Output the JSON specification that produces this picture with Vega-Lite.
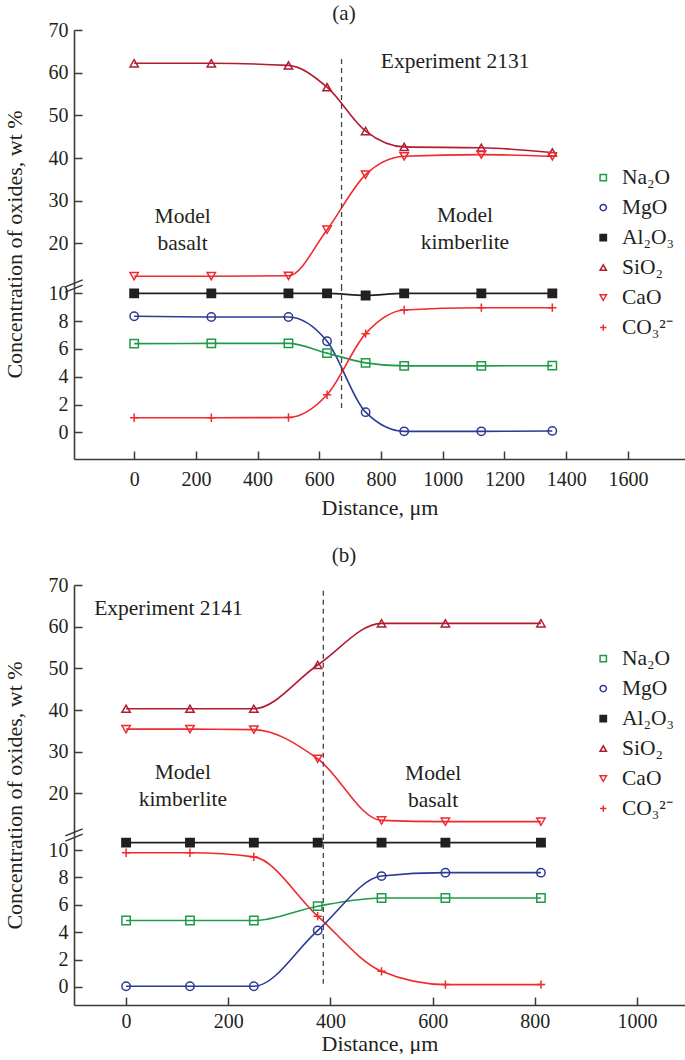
{
  "$schema": "https://vega.github.io/schema/vega-lite/v6.json",
  "background": "white",
  "padding": {"left": 3, "top": 3, "right": 0, "bottom": 0},
  "datasets": {
    "a": [
      {"ox": "SiO₂", "d": 0, "v": 62.2, "sec": "U"},
      {"ox": "SiO₂", "d": 250, "v": 62.2, "sec": "U"},
      {"ox": "SiO₂", "d": 500, "v": 61.7, "sec": "U"},
      {"ox": "SiO₂", "d": 625, "v": 56.6, "sec": "U"},
      {"ox": "SiO₂", "d": 750, "v": 46.3, "sec": "U"},
      {"ox": "SiO₂", "d": 875, "v": 42.6, "sec": "U"},
      {"ox": "SiO₂", "d": 1125, "v": 42.4, "sec": "U"},
      {"ox": "SiO₂", "d": 1355, "v": 41.3, "sec": "U"},
      {"ox": "CaO", "d": 0, "v": 12.3, "sec": "U"},
      {"ox": "CaO", "d": 250, "v": 12.3, "sec": "U"},
      {"ox": "CaO", "d": 500, "v": 12.4, "sec": "U"},
      {"ox": "CaO", "d": 625, "v": 23.2, "sec": "U"},
      {"ox": "CaO", "d": 750, "v": 36.1, "sec": "U"},
      {"ox": "CaO", "d": 875, "v": 40.4, "sec": "U"},
      {"ox": "CaO", "d": 1125, "v": 40.8, "sec": "U"},
      {"ox": "CaO", "d": 1355, "v": 40.4, "sec": "U"},
      {"ox": "Al₂O₃", "d": 0, "v": 10.0, "sec": "L"},
      {"ox": "Al₂O₃", "d": 250, "v": 10.0, "sec": "L"},
      {"ox": "Al₂O₃", "d": 500, "v": 10.0, "sec": "L"},
      {"ox": "Al₂O₃", "d": 625, "v": 10.0, "sec": "L"},
      {"ox": "Al₂O₃", "d": 750, "v": 9.85, "sec": "L"},
      {"ox": "Al₂O₃", "d": 875, "v": 10.0, "sec": "L"},
      {"ox": "Al₂O₃", "d": 1125, "v": 10.0, "sec": "L"},
      {"ox": "Al₂O₃", "d": 1355, "v": 10.0, "sec": "L"},
      {"ox": "MgO", "d": 0, "v": 8.35, "sec": "L"},
      {"ox": "MgO", "d": 250, "v": 8.3, "sec": "L"},
      {"ox": "MgO", "d": 500, "v": 8.3, "sec": "L"},
      {"ox": "MgO", "d": 625, "v": 6.55, "sec": "L"},
      {"ox": "MgO", "d": 750, "v": 1.45, "sec": "L"},
      {"ox": "MgO", "d": 875, "v": 0.07, "sec": "L"},
      {"ox": "MgO", "d": 1125, "v": 0.07, "sec": "L"},
      {"ox": "MgO", "d": 1355, "v": 0.1, "sec": "L"},
      {"ox": "Na₂O", "d": 0, "v": 6.38, "sec": "L"},
      {"ox": "Na₂O", "d": 250, "v": 6.4, "sec": "L"},
      {"ox": "Na₂O", "d": 500, "v": 6.4, "sec": "L"},
      {"ox": "Na₂O", "d": 625, "v": 5.7, "sec": "L"},
      {"ox": "Na₂O", "d": 750, "v": 5.0, "sec": "L"},
      {"ox": "Na₂O", "d": 875, "v": 4.78, "sec": "L"},
      {"ox": "Na₂O", "d": 1125, "v": 4.78, "sec": "L"},
      {"ox": "Na₂O", "d": 1355, "v": 4.8, "sec": "L"},
      {"ox": "CO₃²⁻", "d": 0, "v": 1.05, "sec": "L"},
      {"ox": "CO₃²⁻", "d": 250, "v": 1.05, "sec": "L"},
      {"ox": "CO₃²⁻", "d": 500, "v": 1.07, "sec": "L"},
      {"ox": "CO₃²⁻", "d": 625, "v": 2.7, "sec": "L"},
      {"ox": "CO₃²⁻", "d": 750, "v": 7.1, "sec": "L"},
      {"ox": "CO₃²⁻", "d": 875, "v": 8.8, "sec": "L"},
      {"ox": "CO₃²⁻", "d": 1125, "v": 8.97, "sec": "L"},
      {"ox": "CO₃²⁻", "d": 1355, "v": 8.97, "sec": "L"}
    ],
    "b": [
      {"ox": "SiO₂", "d": 0, "v": 40.3, "sec": "U"},
      {"ox": "SiO₂", "d": 125, "v": 40.3, "sec": "U"},
      {"ox": "SiO₂", "d": 250, "v": 40.3, "sec": "U"},
      {"ox": "SiO₂", "d": 375, "v": 50.8, "sec": "U"},
      {"ox": "SiO₂", "d": 500, "v": 60.8, "sec": "U"},
      {"ox": "SiO₂", "d": 625, "v": 60.8, "sec": "U"},
      {"ox": "SiO₂", "d": 812, "v": 60.8, "sec": "U"},
      {"ox": "CaO", "d": 0, "v": 35.4, "sec": "U"},
      {"ox": "CaO", "d": 125, "v": 35.4, "sec": "U"},
      {"ox": "CaO", "d": 250, "v": 35.3, "sec": "U"},
      {"ox": "CaO", "d": 375, "v": 28.3, "sec": "U"},
      {"ox": "CaO", "d": 500, "v": 13.5, "sec": "U"},
      {"ox": "CaO", "d": 625, "v": 13.2, "sec": "U"},
      {"ox": "CaO", "d": 812, "v": 13.2, "sec": "U"},
      {"ox": "Al₂O₃", "d": 0, "v": 10.54, "sec": "L"},
      {"ox": "Al₂O₃", "d": 125, "v": 10.54, "sec": "L"},
      {"ox": "Al₂O₃", "d": 250, "v": 10.54, "sec": "L"},
      {"ox": "Al₂O₃", "d": 375, "v": 10.54, "sec": "L"},
      {"ox": "Al₂O₃", "d": 500, "v": 10.54, "sec": "L"},
      {"ox": "Al₂O₃", "d": 625, "v": 10.54, "sec": "L"},
      {"ox": "Al₂O₃", "d": 812, "v": 10.54, "sec": "L"},
      {"ox": "CO₃²⁻", "d": 0, "v": 9.8, "sec": "L"},
      {"ox": "CO₃²⁻", "d": 125, "v": 9.8, "sec": "L"},
      {"ox": "CO₃²⁻", "d": 250, "v": 9.5, "sec": "L"},
      {"ox": "CO₃²⁻", "d": 375, "v": 5.17, "sec": "L"},
      {"ox": "CO₃²⁻", "d": 500, "v": 1.14, "sec": "L"},
      {"ox": "CO₃²⁻", "d": 625, "v": 0.17, "sec": "L"},
      {"ox": "CO₃²⁻", "d": 812, "v": 0.17, "sec": "L"},
      {"ox": "Na₂O", "d": 0, "v": 4.85, "sec": "L"},
      {"ox": "Na₂O", "d": 125, "v": 4.85, "sec": "L"},
      {"ox": "Na₂O", "d": 250, "v": 4.85, "sec": "L"},
      {"ox": "Na₂O", "d": 375, "v": 5.9, "sec": "L"},
      {"ox": "Na₂O", "d": 500, "v": 6.5, "sec": "L"},
      {"ox": "Na₂O", "d": 625, "v": 6.5, "sec": "L"},
      {"ox": "Na₂O", "d": 812, "v": 6.5, "sec": "L"},
      {"ox": "MgO", "d": 0, "v": 0.05, "sec": "L"},
      {"ox": "MgO", "d": 125, "v": 0.05, "sec": "L"},
      {"ox": "MgO", "d": 250, "v": 0.05, "sec": "L"},
      {"ox": "MgO", "d": 375, "v": 4.12, "sec": "L"},
      {"ox": "MgO", "d": 500, "v": 8.1, "sec": "L"},
      {"ox": "MgO", "d": 625, "v": 8.35, "sec": "L"},
      {"ox": "MgO", "d": 812, "v": 8.35, "sec": "L"}
    ],
    "notesA": [
      {"t": "Experiment 2131", "d": 1040, "v": 62.5},
      {"t": "Model\nbasalt", "d": 157, "v": 26.1},
      {"t": "Model\nkimberlite", "d": 1072, "v": 26.5}
    ],
    "notesB": [
      {"t": "Experiment 2141", "d": 83, "v": 64.2},
      {"t": "Model\nkimberlite", "d": 111, "v": 24.8},
      {"t": "Model\nbasalt", "d": 601, "v": 24.7}
    ]
  },
  "spacing": 27,
  "vconcat": [
    {
      "title": {"text": "(a)", "offset": -4},
      "bounds": "flush",
      "spacing": 0,
      "vconcat": [
        {
          "width": 611, "height": 256,
          "layer": [
            {
              "data": {"name": "a"}, "transform": [{"filter": "datum.sec === 'U'"}],
              "mark": {"type": "line", "interpolate": "monotone", "strokeWidth": 1.6},
              "encoding": {
                "x": {"field": "d", "type": "quantitative", "scale": {"domain": [-195, 1785], "nice": false, "zero": false}, "axis": null},
                "y": {"field": "v", "type": "quantitative", "scale": {"domain": [10, 70], "nice": false, "zero": false},
                      "axis": {"values": [20, 30, 40, 50, 60, 70], "tickCount": 12, "labelOverlap": false, "title": "Concentration of oxides, wt %", "titleY": 214, "tickSize": -8, "labelPadding": 14, "titlePadding": 22}},
                "color": {"field": "ox", "type": "nominal", "scale": {"domain": ["MgO", "Na₂O", "Al₂O₃", "SiO₂", "CaO", "CO₃²⁻"], "range": ["#2b3a92", "#1f9a48", "#231f20", "#b01c30", "#ee2a2e", "#ee2a2e"]}, "legend": null}
              }
            },
            {
              "data": {"name": "a"}, "transform": [{"filter": "datum.sec === 'U'"}],
              "mark": {"type": "point", "filled": true, "size": 70, "strokeWidth": 1.5, "opacity": 1},
              "encoding": {
                "x": {"field": "d", "type": "quantitative"},
                "y": {"field": "v", "type": "quantitative"},
                "stroke": {"field": "ox", "type": "nominal", "scale": {"domain": ["Na₂O", "MgO", "Al₂O₃", "SiO₂", "CaO", "CO₃²⁻"], "range": ["#1f9a48", "#2b3a92", "#231f20", "#b01c30", "#ee2a2e", "#ee2a2e"]},
                           "legend": {"orient": "none", "legendX": 518.5, "legendY": 136.8, "title": null, "padding": 0, "symbolSize": 40, "symbolStrokeWidth": 1.5, "labelFontSize": 21.5, "labelColor": "#231f20", "labelOffset": 8, "rowPadding": 7}},
                "fill": {"field": "ox", "type": "nominal", "scale": {"domain": ["Na₂O", "MgO", "Al₂O₃", "SiO₂", "CaO", "CO₃²⁻"], "range": ["transparent", "transparent", "#231f20", "transparent", "transparent", "transparent"]}},
                "shape": {"field": "ox", "type": "nominal", "scale": {"domain": ["Na₂O", "MgO", "Al₂O₃", "SiO₂", "CaO", "CO₃²⁻"], "range": ["square", "circle", "square", "triangle-up", "triangle-down", "M-1,0L1,0M0,-1L0,1"]}}
              }
            },
            {
              "data": {"values": [{}]},
              "mark": {"type": "rule", "strokeDash": [5, 4], "color": "#444", "strokeWidth": 1.3},
              "encoding": {"x": {"datum": 672}, "y": {"datum": 63.2}, "y2": {"datum": 10}}
            },
            {
              "data": {"values": [{}]},
              "mark": {"type": "point", "shape": "M-1,0.1L1,-0.7M-1,0.7L1,-0.1", "size": 300, "filled": false, "stroke": "#333", "strokeWidth": 1.4, "opacity": 1},
              "encoding": {"x": {"datum": -195}, "y": {"datum": 10}}
            },
            {
              "data": {"name": "notesA"},
              "mark": {"type": "text", "font": "Liberation Serif", "fontSize": 21.5, "lineBreak": "\n", "lineHeight": 27, "color": "#231f20"},
              "encoding": {"x": {"field": "d", "type": "quantitative"}, "y": {"field": "v", "type": "quantitative"}, "text": {"field": "t"}}
            }
          ]
        },
        {
          "width": 611, "height": 173,
          "layer": [
            {
              "data": {"name": "a"}, "transform": [{"filter": "datum.sec === 'L'"}],
              "mark": {"type": "line", "interpolate": "monotone", "strokeWidth": 1.6},
              "encoding": {
                "x": {"field": "d", "type": "quantitative", "scale": {"domain": [-195, 1785], "nice": false, "zero": false},
                      "axis": {"values": [0, 200, 400, 600, 800, 1000, 1200, 1400, 1600], "tickCount": 20, "labelOverlap": false, "format": "d", "title": "Distance, μm", "tickSize": -8, "labelPadding": 18, "titlePadding": 8}},
                "y": {"field": "v", "type": "quantitative", "scale": {"domain": [-1.92, 10.53], "nice": false, "zero": false},
                      "axis": {"values": [0, 2, 4, 6, 8, 10], "tickCount": 12, "labelOverlap": false, "title": null, "tickSize": -8, "labelPadding": 14}},
                "color": {"field": "ox", "type": "nominal", "scale": {"domain": ["MgO", "Na₂O", "Al₂O₃", "SiO₂", "CaO", "CO₃²⁻"], "range": ["#2b3a92", "#1f9a48", "#231f20", "#b01c30", "#ee2a2e", "#ee2a2e"]}, "legend": null}
              }
            },
            {
              "data": {"name": "a"}, "transform": [{"filter": "datum.sec === 'L'"}],
              "mark": {"type": "point", "filled": true, "size": 70, "strokeWidth": 1.5, "opacity": 1},
              "encoding": {
                "x": {"field": "d", "type": "quantitative"},
                "y": {"field": "v", "type": "quantitative"},
                "stroke": {"field": "ox", "type": "nominal", "scale": {"domain": ["Na₂O", "MgO", "Al₂O₃", "SiO₂", "CaO", "CO₃²⁻"], "range": ["#1f9a48", "#2b3a92", "#231f20", "#b01c30", "#ee2a2e", "#ee2a2e"]}},
                "fill": {"field": "ox", "type": "nominal", "scale": {"domain": ["Na₂O", "MgO", "Al₂O₃", "SiO₂", "CaO", "CO₃²⁻"], "range": ["transparent", "transparent", "#231f20", "transparent", "transparent", "transparent"]}},
                "shape": {"field": "ox", "type": "nominal", "scale": {"domain": ["Na₂O", "MgO", "Al₂O₃", "SiO₂", "CaO", "CO₃²⁻"], "range": ["square", "circle", "square", "triangle-up", "triangle-down", "M-1,0L1,0M0,-1L0,1"]}}
              }
            },
            {
              "data": {"values": [{}]},
              "mark": {"type": "rule", "strokeDash": [5, 4], "color": "#444", "strokeWidth": 1.3},
              "encoding": {"x": {"datum": 672}, "y": {"datum": 10.53}, "y2": {"datum": 1.64}}
            }
          ]
        }
      ],
      "resolve": {"scale": {"y": "independent"}}
    },
    {
      "title": {"text": "(b)", "offset": 9},
      "bounds": "flush",
      "spacing": 0,
      "vconcat": [
        {
          "width": 611, "height": 250,
          "layer": [
            {
              "data": {"name": "b"}, "transform": [{"filter": "datum.sec === 'U'"}],
              "mark": {"type": "line", "interpolate": "monotone", "strokeWidth": 1.6},
              "encoding": {
                "x": {"field": "d", "type": "quantitative", "scale": {"domain": [-102, 1094], "nice": false, "zero": false}, "axis": null},
                "y": {"field": "v", "type": "quantitative", "scale": {"domain": [10, 70], "nice": false, "zero": false},
                      "axis": {"values": [20, 30, 40, 50, 60, 70], "tickCount": 12, "labelOverlap": false, "title": "Concentration of oxides, wt %", "titleY": 210, "tickSize": -8, "labelPadding": 14, "titlePadding": 22}},
                "color": {"field": "ox", "type": "nominal", "scale": {"domain": ["MgO", "Na₂O", "Al₂O₃", "SiO₂", "CaO", "CO₃²⁻"], "range": ["#2b3a92", "#1f9a48", "#231f20", "#b01c30", "#ee2a2e", "#ee2a2e"]}, "legend": null}
              }
            },
            {
              "data": {"name": "b"}, "transform": [{"filter": "datum.sec === 'U'"}],
              "mark": {"type": "point", "filled": true, "size": 70, "strokeWidth": 1.5, "opacity": 1},
              "encoding": {
                "x": {"field": "d", "type": "quantitative"},
                "y": {"field": "v", "type": "quantitative"},
                "stroke": {"field": "ox", "type": "nominal", "scale": {"domain": ["Na₂O", "MgO", "Al₂O₃", "SiO₂", "CaO", "CO₃²⁻"], "range": ["#1f9a48", "#2b3a92", "#231f20", "#b01c30", "#ee2a2e", "#ee2a2e"]},
                           "legend": {"orient": "none", "legendX": 518.5, "legendY": 62.8, "title": null, "padding": 0, "symbolSize": 40, "symbolStrokeWidth": 1.5, "labelFontSize": 21.5, "labelColor": "#231f20", "labelOffset": 8, "rowPadding": 7}},
                "fill": {"field": "ox", "type": "nominal", "scale": {"domain": ["Na₂O", "MgO", "Al₂O₃", "SiO₂", "CaO", "CO₃²⁻"], "range": ["transparent", "transparent", "#231f20", "transparent", "transparent", "transparent"]}},
                "shape": {"field": "ox", "type": "nominal", "scale": {"domain": ["Na₂O", "MgO", "Al₂O₃", "SiO₂", "CaO", "CO₃²⁻"], "range": ["square", "circle", "square", "triangle-up", "triangle-down", "M-1,0L1,0M0,-1L0,1"]}}
              }
            },
            {
              "data": {"values": [{}]},
              "mark": {"type": "rule", "strokeDash": [5, 4], "color": "#444", "strokeWidth": 1.3},
              "encoding": {"x": {"datum": 386}, "y": {"datum": 68.6}, "y2": {"datum": 10}}
            },
            {
              "data": {"values": [{}]},
              "mark": {"type": "point", "shape": "M-1,0.1L1,-0.7M-1,0.7L1,-0.1", "size": 300, "filled": false, "stroke": "#333", "strokeWidth": 1.4, "opacity": 1},
              "encoding": {"x": {"datum": -102}, "y": {"datum": 10}}
            },
            {
              "data": {"name": "notesB"},
              "mark": {"type": "text", "font": "Liberation Serif", "fontSize": 21.5, "lineBreak": "\n", "lineHeight": 27, "color": "#231f20"},
              "encoding": {"x": {"field": "d", "type": "quantitative"}, "y": {"field": "v", "type": "quantitative"}, "text": {"field": "t"}}
            }
          ]
        },
        {
          "width": 611, "height": 170,
          "layer": [
            {
              "data": {"name": "b"}, "transform": [{"filter": "datum.sec === 'L'"}],
              "mark": {"type": "line", "interpolate": "monotone", "strokeWidth": 1.6},
              "encoding": {
                "x": {"field": "d", "type": "quantitative", "scale": {"domain": [-102, 1094], "nice": false, "zero": false},
                      "axis": {"values": [0, 200, 400, 600, 800, 1000], "tickCount": 20, "labelOverlap": false, "format": "d", "title": "Distance, μm", "tickSize": -8, "labelPadding": 14, "titlePadding": 2}},
                "y": {"field": "v", "type": "quantitative", "scale": {"domain": [-1.32, 11.1], "nice": false, "zero": false},
                      "axis": {"values": [0, 2, 4, 6, 8, 10], "tickCount": 12, "labelOverlap": false, "title": null, "tickSize": -8, "labelPadding": 14}},
                "color": {"field": "ox", "type": "nominal", "scale": {"domain": ["MgO", "Na₂O", "Al₂O₃", "SiO₂", "CaO", "CO₃²⁻"], "range": ["#2b3a92", "#1f9a48", "#231f20", "#b01c30", "#ee2a2e", "#ee2a2e"]}, "legend": null}
              }
            },
            {
              "data": {"name": "b"}, "transform": [{"filter": "datum.sec === 'L'"}],
              "mark": {"type": "point", "filled": true, "size": 70, "strokeWidth": 1.5, "opacity": 1},
              "encoding": {
                "x": {"field": "d", "type": "quantitative"},
                "y": {"field": "v", "type": "quantitative"},
                "stroke": {"field": "ox", "type": "nominal", "scale": {"domain": ["Na₂O", "MgO", "Al₂O₃", "SiO₂", "CaO", "CO₃²⁻"], "range": ["#1f9a48", "#2b3a92", "#231f20", "#b01c30", "#ee2a2e", "#ee2a2e"]}},
                "fill": {"field": "ox", "type": "nominal", "scale": {"domain": ["Na₂O", "MgO", "Al₂O₃", "SiO₂", "CaO", "CO₃²⁻"], "range": ["transparent", "transparent", "#231f20", "transparent", "transparent", "transparent"]}},
                "shape": {"field": "ox", "type": "nominal", "scale": {"domain": ["Na₂O", "MgO", "Al₂O₃", "SiO₂", "CaO", "CO₃²⁻"], "range": ["square", "circle", "square", "triangle-up", "triangle-down", "M-1,0L1,0M0,-1L0,1"]}}
              }
            },
            {
              "data": {"values": [{}]},
              "mark": {"type": "rule", "strokeDash": [5, 4], "color": "#444", "strokeWidth": 1.3},
              "encoding": {"x": {"datum": 386}, "y": {"datum": 11.1}, "y2": {"datum": 0.24}}
            }
          ]
        }
      ],
      "resolve": {"scale": {"y": "independent"}}
    }
  ],
  "resolve": {
    "scale": {"x": "independent", "y": "independent", "color": "independent", "stroke": "independent", "fill": "independent", "shape": "independent"},
    "legend": {"color": "independent", "stroke": "independent", "fill": "independent", "shape": "independent"}
  },
  "config": {
    "font": "Liberation Serif",
    "view": {"stroke": null},
    "title": {"font": "Liberation Serif", "fontSize": 21, "fontWeight": "normal", "color": "#231f20", "anchor": "middle"},
    "axis": {
      "grid": false, "labelOverlap": false,
      "labelFont": "Liberation Serif", "labelFontSize": 20, "labelColor": "#231f20",
      "titleFont": "Liberation Serif", "titleFontSize": 22, "titleFontWeight": "normal", "titleColor": "#231f20",
      "domainColor": "#3a3a3a", "domainWidth": 1.6, "tickColor": "#3a3a3a", "tickWidth": 1.5
    },
    "legend": {"labelFont": "Liberation Serif"}
  }
}
